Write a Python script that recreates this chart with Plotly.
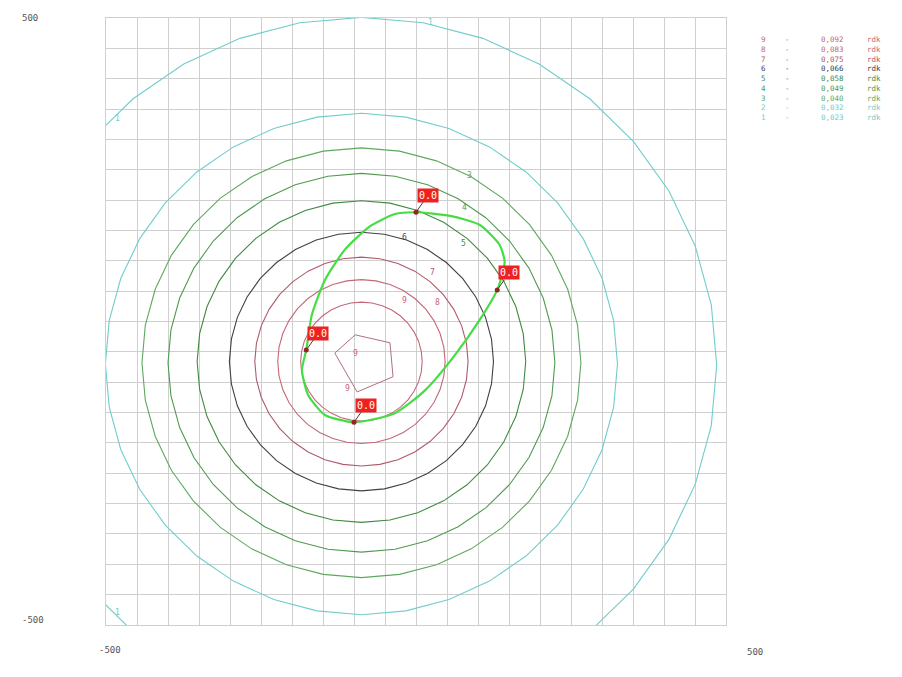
import numpy as np
import plotly.graph_objects as go

# ---- data ----
levels = [1, 2, 3, 4, 5, 6, 7, 8, 9]
level_values = ["0,023", "0,032", "0,040", "0,049", "0,058", "0,066", "0,075", "0,083", "0,092"]
level_radius = [573, 413, 354, 312, 265, 213, 172, 135, 98]
level_cx = [-88, -88, -88, -88, -88, -88, -88, -88, -88]
level_cy = [-72, -70, -68, -68, -66, -66, -66, -66, -66]
level_colors = ["#72cccc", "#72cccc", "#5fa85f", "#4f9a4f", "#3f8a3f", "#404048",
                "#b05a6a", "#c46878", "#c46878"]
core_x = [-98, -42, -37, -95, -131]
core_y = [-22, -35, -91, -116, -52]

route_x = [0, 55, 103, 135, 143, 131, 103, 63, 15, -34, -100, -147, -174, -184, -177, -168, -147, -115, -74, -34, 0]
route_y = [180, 174, 159, 126, 98, 52, 3, -55, -113, -151, -166, -154, -121, -80, -47, 11, 68, 118, 157, 177, 180]
stop_x = [0, 131, -177, -100]
stop_y = [180, 52, -47, -166]
stop_labels = ["0.0", "0.0", "0.0", "0.0"]

label_text = ["1", "1", "1", "3", "4", "5", "6", "7", "8", "9", "9", "9"]
label_x = [23, -481, -481, 87, 79, 76, -18, 27, 34, -19, -98, -110]
label_y = [493, 335, -479, 240, 187, 129, 138, 80, 31, 35, -52, -110]
label_lev = [1, 1, 1, 3, 4, 5, 6, 7, 8, 9, 9, 9]

fig = go.Figure()

ang = np.linspace(0, 2 * np.pi, 37)
for i, lev in enumerate(levels):
    xs = level_cx[i] + level_radius[i] * np.cos(ang)
    ys = level_cy[i] + level_radius[i] * np.sin(ang)
    fig.add_trace(go.Scatter(x=xs, y=ys, mode="lines",
                             line=dict(color=level_colors[i], width=1.1),
                             hoverinfo="skip", showlegend=False))

fig.add_trace(go.Scatter(x=core_x + [core_x[0]], y=core_y + [core_y[0]], mode="lines",
                         line=dict(color="#b07080", width=1), showlegend=False))

fig.add_trace(go.Scatter(x=route_x, y=route_y, mode="lines",
                         line=dict(color="#44dd44", width=2.2, shape="spline", smoothing=0.6),
                         showlegend=False))
fig.add_trace(go.Scatter(x=stop_x, y=stop_y, mode="markers",
                         marker=dict(color="#992222", size=5), showlegend=False))

for sx, sy, st in zip(stop_x, stop_y, stop_labels):
    fig.add_annotation(x=sx, y=sy, text=st, showarrow=True, arrowhead=0, arrowwidth=1,
                       arrowcolor="#553333", ax=12, ay=-17, standoff=2,
                       bgcolor="#ee2020", font=dict(color="white", size=10,
                       family="DejaVu Sans Mono"), borderpad=1)

for t, lx, ly, lv in zip(label_text, label_x, label_y, label_lev):
    fig.add_annotation(x=lx, y=ly, text=t, showarrow=False,
                       font=dict(color=level_colors[lv - 1], size=8, family="DejaVu Sans Mono"))

# legend text block on the right, one multi-line annotation per column
order = list(range(8, -1, -1))
col_num = "<br>".join(f"<span style='color:{level_colors[i]}'>{levels[i]}</span>" for i in order)
col_dash = "<br>".join(f"<span style='color:{level_colors[i]}'>-</span>" for i in order)
col_val = "<br>".join(f"<span style='color:{level_colors[i]}'>{level_values[i]}</span>" for i in order)
col_unit = "<br>".join(f"<span style='color:{level_colors[i]}'>rdk</span>" for i in order)
leg_font = dict(size=7.5, family="DejaVu Sans Mono")
top_y = (625 - 33) / 607
for px, txt in [(759, col_num), (783, col_dash), (819, col_val), (865, col_unit)]:
    fig.add_annotation(xref="paper", yref="paper", x=(px - 106) / 620, y=top_y, text=txt,
                       showarrow=False, xanchor="left", yanchor="top", align="left", font=leg_font)

# axis texts
tick_font = dict(color="#555555", size=9, family="DejaVu Sans Mono")
for px, py, txt in [(30, 18, "500"), (33, 620, "-500"), (110, 650, "-500"), (755, 652, "500")]:
    fig.add_annotation(xref="paper", yref="paper", x=(px - 106) / 620, y=(625 - py) / 607,
                       text=txt, showarrow=False, xanchor="center", yanchor="middle",
                       font=tick_font)

axis_common = dict(range=[-500, 500], showgrid=True, gridcolor="#cfcfcf", gridwidth=1,
                   dtick=50, tick0=-500, showticklabels=False, zeroline=False,
                   showline=True, linecolor="#cfcfcf", mirror=True, ticks="")
fig.update_xaxes(**axis_common)
fig.update_yaxes(**axis_common)
fig.update_layout(width=902, height=677, margin=dict(l=98, r=184, t=10, b=60),
                  plot_bgcolor="white", paper_bgcolor="white", showlegend=False)

fig.write_html("out.html")
